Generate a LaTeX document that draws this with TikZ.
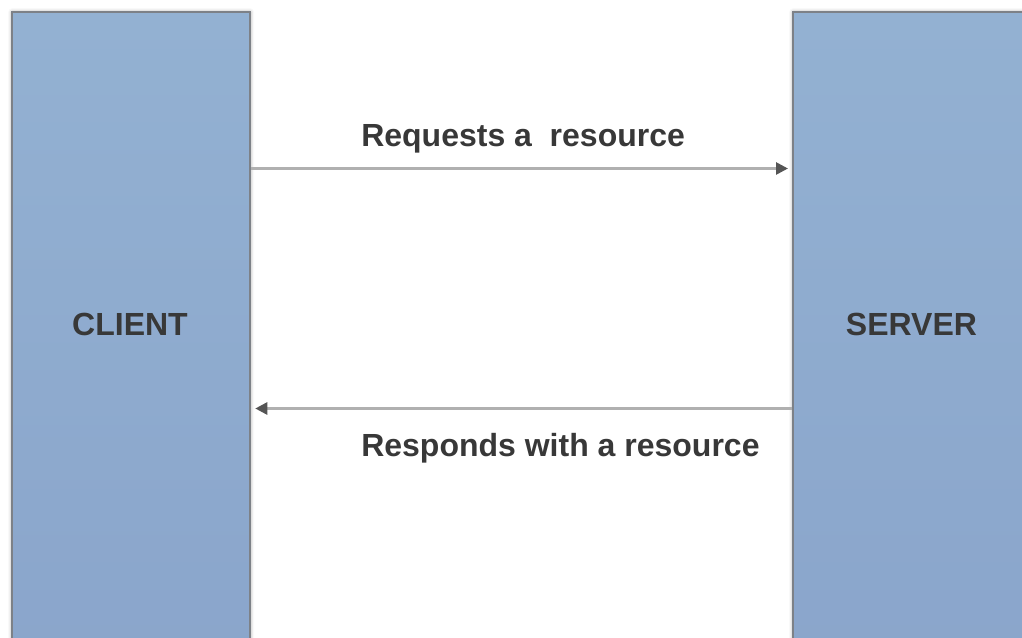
\documentclass[tikz,border=0pt]{standalone}
\usepackage{fontspec}
\setmainfont{Liberation Sans}
\usetikzlibrary{arrows.meta,shadows.blur}

\definecolor{boxtop}{HTML}{93B1D2}
\definecolor{boxbottom}{HTML}{8AA5CB}
\definecolor{boxedge}{HTML}{7D8187}
\definecolor{labeltext}{HTML}{383838}
\definecolor{linkline}{HTML}{B0B0B0}
\definecolor{linkhead}{HTML}{555555}

\tikzset{
  party/.style={rectangle, draw=boxedge, line width=1.7pt,
    top color=boxtop, bottom color=boxbottom,
    blur shadow={shadow xshift=0pt, shadow yshift=0pt,
      shadow blur radius=3pt, shadow opacity=40},
    inner sep=0pt, minimum width=238*0.75pt, minimum height=660*0.75pt},
  partyname/.style={font=\bfseries\fontsize{24}{28}\selectfont,
    text=labeltext, inner sep=0pt, anchor=base},
  msgtext/.style={font=\bfseries\fontsize{24}{28}\selectfont,
    text=labeltext, inner sep=0pt, anchor=base west},
  link/.style={draw=linkline, line width=2pt,
    -{Triangle[length=9pt,width=9pt,color=linkhead,fill=linkhead]}}
}

\begin{document}
\begin{tikzpicture}[x=0.75pt,y=-0.75pt]
  \useasboundingbox (0,0) rectangle (1022,638);
  \clip (0,0) rectangle (1022,638);

  % the two parties
  \node[party, anchor=north west] (client) at (11,11) {};
  \node[party, anchor=north west] (server) at (792,11) {};

  \node[partyname] (clientname) at (130,335) {CLIENT};
  \node[partyname] (servername) at (911.5,335) {SERVER};

  % request and response
  \coordinate (reqy) at (0,168.5);
  \coordinate (resy) at (0,408.5);
  \draw[link] (client.east |- reqy) -- ([xshift=-3pt]server.west |- reqy);
  \draw[link] (server.west |- resy) -- ([xshift=3pt]client.east |- resy);

  \node[msgtext] (reqtext) at (361,147) {Requests a\ \ resource};
  \node[msgtext] (restext) at (361,456.5) {Responds with a resource};
\end{tikzpicture}
\end{document}
